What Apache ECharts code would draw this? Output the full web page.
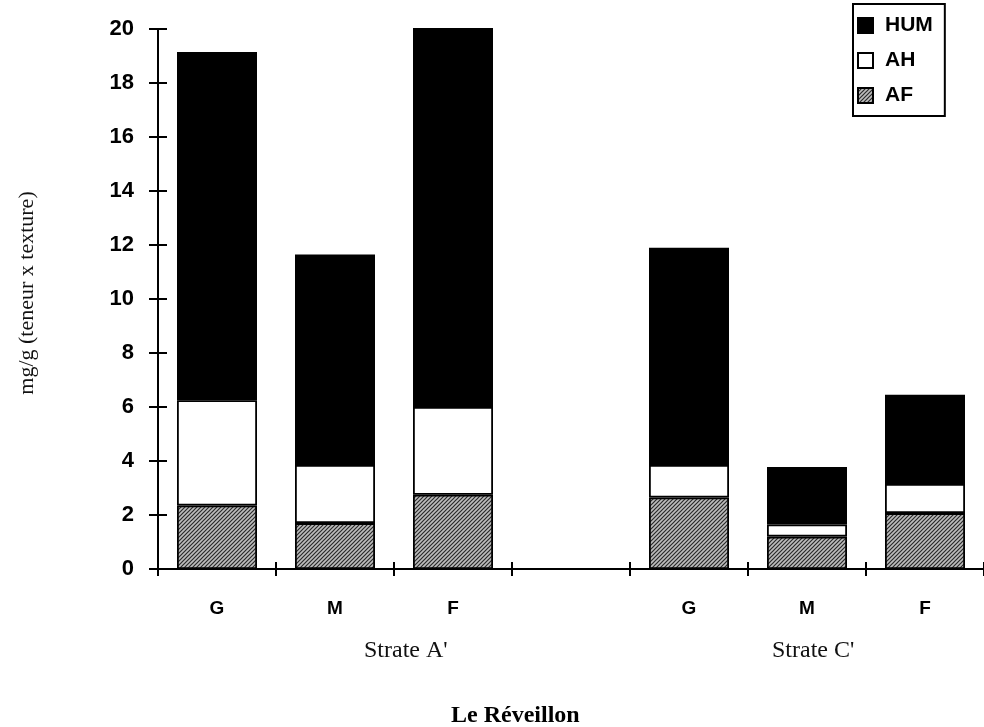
<!DOCTYPE html>
<html><head><meta charset="utf-8">
<script src="https://cdn.jsdelivr.net/npm/echarts@6/dist/echarts.min.js"></script>
<style>html,body{margin:0;padding:0;background:#fff}#c{width:984px;height:727px}</style>
</head><body><div id="c"></div>
<script>
// ---- data ----
const slotIds = ['A-G','A-M','A-F','gap','C-G','C-M','C-F'];
const sizeLabels = ['G','M','F','','G','M','F'];
const strataLabels = ["Strate A'", "Strate C'"];
const seriesNames = ['AF','AH','HUM'];
const legendOrder = ['HUM','AH','AF'];
const AF  = [2.35, 1.70, 2.75, null, 2.65, 1.20, 2.07];
const AH  = [3.90, 2.15, 3.25, null, 1.20, 0.45, 1.08];
const HUM = [12.90, 7.80, 14.05, null, 8.05, 2.13, 3.30];
const yTicks = [0,2,4,6,8,10,12,14,16,18,20];
const yAxisName = 'mg/g (teneur x texture)';
const chartTitle = 'Le Réveillon';

// ---- hatched pattern for AF ----
function makePattern(){
  const c = document.createElement('canvas');
  c.width = 4; c.height = 4;
  const g = c.getContext('2d');
  g.fillStyle = '#bdbdbd'; g.fillRect(0,0,4,4);
  g.strokeStyle = '#2a2a2a'; g.lineWidth = 1.2;
  g.beginPath();
  g.moveTo(0,4); g.lineTo(4,0);
  g.moveTo(-1,1); g.lineTo(1,-1);
  g.moveTo(3,5); g.lineTo(5,3);
  g.stroke();
  return c;
}
const afFill = {image: makePattern(), repeat: 'repeat'};

const chart = echarts.init(document.getElementById('c'), null, {renderer:'canvas'});
const sans = 'Liberation Sans, Arial, sans-serif';
const serif = 'Liberation Serif, Times New Roman, serif';

const fills = {AF: afFill, AH: '#ffffff', HUM: '#000000'};
const values = {AF: AF, AH: AH, HUM: HUM};

chart.setOption({
  animation:false,
  backgroundColor:'#fff',
  title:{text: chartTitle, left: 446, top: 699,
    textStyle:{fontFamily: serif, fontWeight:'bold', fontSize:24, color:'#000'}},
  legend:{
    data: legendOrder, icon:'rect',
    orient:'vertical', left: 853, top: 4,
    itemWidth: 15, itemHeight: 15, itemGap: 14,
    padding:[11,12,10,4],
    borderColor:'#000', borderWidth:2, backgroundColor:'#fff',
    textStyle:{fontFamily: sans, fontWeight:'bold', fontSize:21, color:'#000', padding:[0,0,0,7]}
  },
  graphic: [
    {type:'text', left: 364, top: 639, style:{text: strataLabels[0], font: '24px ' + serif, fill:'#111'}},
    {type:'text', left: 772, top: 639, style:{text: strataLabels[1], font: '24px ' + serif, fill:'#111'}}
  ],
  grid:{left:158, right:-3, top:29, bottom:158, containLabel:false},
  xAxis:[
    {type:'category', data: slotIds, position:'bottom',
     axisLine:{show:true, onZero:false, lineStyle:{color:'#000', width:2}},
     axisTick:{show:true, inside:false, length:7, lineStyle:{color:'#000', width:2}},
     axisLabel:{margin:30, interval:0, formatter:(v,i)=>sizeLabels[i],
       fontFamily: sans, fontWeight:'bold', fontSize:19, color:'#000'}},
    {type:'category', data: slotIds, position:'bottom',
     axisLine:{show:false},
     axisTick:{show:true, inside:true, length:7, lineStyle:{color:'#000', width:2}},
     axisLabel:{show:false}}
  ],
  yAxis:[
    {type:'value', min:0, max:20, interval:2,
     name: yAxisName, nameLocation:'middle', nameGap:120, nameRotate:90,
     nameTextStyle:{fontFamily: serif, fontSize:22, color:'#111', padding:[0,0,0,12]},
     axisLine:{show:true, lineStyle:{color:'#000', width:2}},
     axisTick:{show:true, inside:false, length:9, lineStyle:{color:'#000', width:2}},
     axisLabel:{margin:24, formatter:v=>yTicks.indexOf(v)>=0? String(v):'',
       fontFamily: sans, fontWeight:'bold', fontSize:22, color:'#000'},
     splitLine:{show:false}},
    {type:'value', min:0, max:20, interval:2, position:'left', offset:0,
     axisLine:{show:true, lineStyle:{color:'#000', width:2}},
     axisTick:{show:true, inside:true, length:9, lineStyle:{color:'#000', width:2}},
     axisLabel:{show:false}, splitLine:{show:false}}
  ],
  series: seriesNames.map(n=>({
    name:n, type:'bar', stack:'total', barWidth:80,
    data: values[n],
    itemStyle:{color: fills[n], borderColor:'#000', borderWidth:1.8}
  }))
});
</script></body></html>
